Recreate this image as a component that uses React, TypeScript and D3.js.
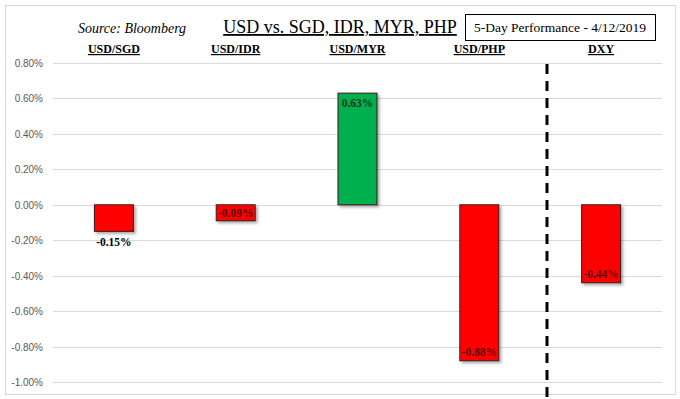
import React, { useEffect, useRef } from "react";
import * as d3 from "d3";

const pairs = ["USD/SGD", "USD/IDR", "USD/MYR", "USD/PHP", "DXY"];
const changes = [-0.15, -0.09, 0.63, -0.88, -0.44];
const yTicks = [0.8, 0.6, 0.4, 0.2, 0, -0.2, -0.4, -0.6, -0.8, -1.0];
// where each value label sits: below the bar, in the middle, at the top or bottom end
const labelSpots = ["below", "middle", "top", "bottom", "bottom"];

const W = 680;
const H = 399;

const App = () => {
    const ref = useRef<SVGSVGElement>(null);

    useEffect(() => {
        const svg = d3.select(ref.current);
        svg.selectAll("*").remove();

        const left = 53;
        const right = 662;

        const x = d3.scaleBand().domain(pairs).range([left, right]).paddingInner(0.68).paddingOuter(0.34);
        const y = d3.scaleLinear().domain([-1, 0.8]).range([382, 63]);

        // frame
        svg.append("rect")
            .attr("x", 5.5).attr("y", 5.5)
            .attr("width", 670).attr("height", 389)
            .attr("fill", "#fff").attr("stroke", "#d9d9d9");

        // grid
        svg.append("g")
            .selectAll("line")
            .data(yTicks)
            .join("line")
            .attr("x1", left).attr("x2", right)
            .attr("y1", (d) => Math.round(y(d)) + 0.5)
            .attr("y2", (d) => Math.round(y(d)) + 0.5)
            .attr("stroke", "#d9d9d9");

        // y axis labels
        svg.append("g")
            .selectAll("text")
            .data(yTicks)
            .join("text")
            .attr("x", 43)
            .attr("y", (d) => y(d) + 4)
            .attr("text-anchor", "end")
            .attr("font-family", "Liberation Sans, Arial, sans-serif")
            .attr("font-size", 10)
            .attr("fill", "#595959")
            .text((d) => d.toFixed(2) + "%");

        // shadow filter
        const defs = svg.append("defs");
        const f = defs.append("filter").attr("id", "shd").attr("x", "-20%").attr("y", "-20%").attr("width", "150%").attr("height", "150%");
        f.append("feDropShadow").attr("dx", 2).attr("dy", 2).attr("stdDeviation", 1.5).attr("flood-color", "#000").attr("flood-opacity", 0.35);

        // bars
        svg.append("g")
            .selectAll("rect")
            .data(changes)
            .join("rect")
            .attr("x", (d, i) => x(pairs[i])!)
            .attr("y", (d) => y(Math.max(0, d)))
            .attr("width", x.bandwidth())
            .attr("height", (d) => Math.abs(y(d) - y(0)))
            .attr("fill", (d) => (d >= 0 ? "#00b050" : "#ff0000"))
            .attr("stroke", "#3a1a1a")
            .attr("stroke-width", 1)
            .attr("filter", "url(#shd)");

        // value labels
        svg.append("g")
            .selectAll("text")
            .data(changes)
            .join("text")
            .attr("x", (d, i) => x(pairs[i])! + x.bandwidth() / 2)
            .attr("y", (d, i) => {
                const spot = labelSpots[i];
                if (spot === "below") return y(d) + 15;
                if (spot === "middle") return (y(d) + y(0)) / 2 + 4;
                if (spot === "top") return y(d) + 14;
                return y(d) - 5;
            })
            .attr("text-anchor", "middle")
            .attr("font-family", "Liberation Serif, Times New Roman, serif")
            .attr("font-weight", "bold")
            .attr("font-size", 11.5)
            .attr("fill", (d, i) => (labelSpots[i] === "below" ? "#000" : d >= 0 ? "#0d3a1c" : "#5a0000"))
            .text((d) => d.toFixed(2) + "%");

        // category labels
        svg.append("g")
            .selectAll("text")
            .data(pairs)
            .join("text")
            .attr("x", (d) => x(d)! + x.bandwidth() / 2)
            .attr("y", 53)
            .attr("text-anchor", "middle")
            .attr("font-family", "Liberation Serif, Times New Roman, serif")
            .attr("font-weight", "bold")
            .attr("font-size", 12)
            .attr("text-decoration", "underline")
            .attr("fill", "#000")
            .text((d) => d);

        // dashed divider between USD/PHP and DXY
        svg.append("line")
            .attr("x1", 547).attr("x2", 547)
            .attr("y1", 64).attr("y2", H)
            .attr("stroke", "#000")
            .attr("stroke-width", 3)
            .attr("stroke-dasharray", "10,7");

        // header
        svg.append("text")
            .attr("x", 132).attr("y", 33)
            .attr("text-anchor", "middle")
            .attr("font-family", "Liberation Serif, Times New Roman, serif")
            .attr("font-style", "italic")
            .attr("font-size", 14)
            .text("Source: Bloomberg");

        svg.append("text")
            .attr("x", 340).attr("y", 33)
            .attr("text-anchor", "middle")
            .attr("font-family", "Liberation Serif, Times New Roman, serif")
            .attr("font-size", 18)
            .attr("text-decoration", "underline")
            .text("USD vs. SGD, IDR, MYR, PHP");

        svg.append("rect")
            .attr("x", 465.5).attr("y", 14.5)
            .attr("width", 190).attr("height", 26)
            .attr("fill", "#fff").attr("stroke", "#000");

        svg.append("text")
            .attr("x", 560).attr("y", 32)
            .attr("text-anchor", "middle")
            .attr("font-family", "Liberation Serif, Times New Roman, serif")
            .attr("font-size", 13.5)
            .text("5-Day Performance - 4/12/2019");
    }, []);

    return <svg ref={ref} width={W} height={H} style={{ position: "absolute", left: 0, top: 0 }} />;
};

export default App;
